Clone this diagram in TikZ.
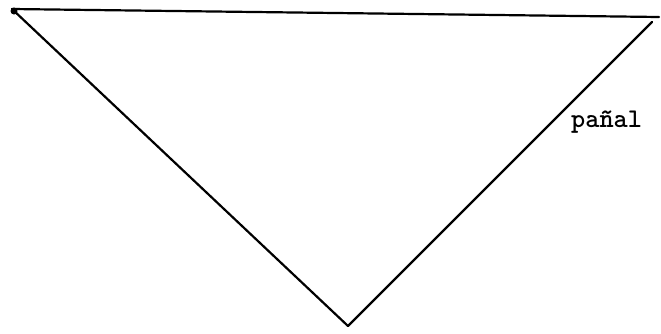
\documentclass[tikz,border=0pt]{standalone}
\usepackage{fontspec}
\begin{document}
\begin{tikzpicture}[x=1pt,y=-1pt,
  edge/.style={line width=2.2pt,line cap=round,line join=round},
  lbl/.style={font=\ttfamily\bfseries\fontsize{27}{30}\selectfont,inner sep=0pt,anchor=base west}]
\useasboundingbox (0,0) rectangle (661,333);
\coordinate (tl) at (12,9);
\coordinate (tr) at (659,17);
\coordinate (rt) at (652,22);
\coordinate (bt) at (348,326);
\draw[edge] (tl) -- (tr);
\draw[edge] (tl) -- (bt);
\draw[edge] (bt) -- (rt);
\fill (14,11) circle (3.5);
\node[lbl] (p) at (571,127) {pañal};
\end{tikzpicture}
\end{document}
